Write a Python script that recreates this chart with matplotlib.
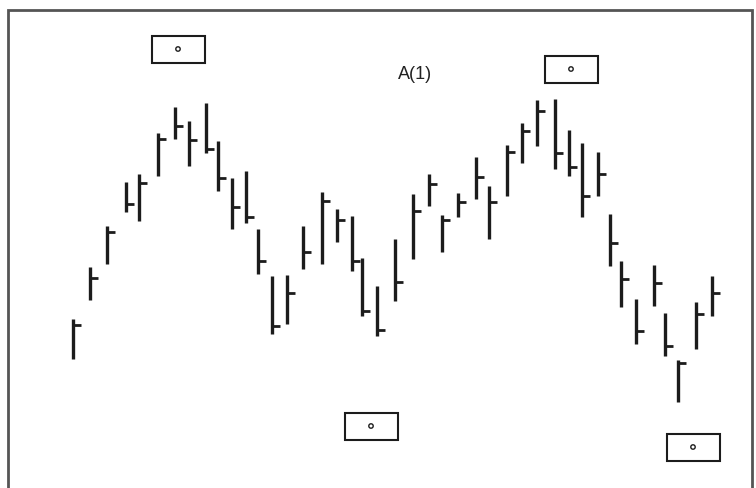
import matplotlib
matplotlib.use("Agg")
import matplotlib.pyplot as plt
from matplotlib.patches import Rectangle, Circle

# ---- data (x = bar position, prices on an arbitrary upward scale) ----
bar_x = [73, 90, 107, 126, 139, 158, 175, 189, 206, 218, 232, 246, 258, 272, 287,
         303, 322, 337, 352, 362, 377, 395, 413, 429, 442, 458, 476, 489, 507, 522,
         537, 555, 569, 582, 598, 610, 621, 636, 654, 665, 678, 696, 712]
bar_top = [320, 268, 227, 183, 175, 134, 108, 122, 104, 142, 179, 172, 230, 277, 276,
           227, 193, 210, 217, 259, 287, 240, 195, 175, 216, 194, 158, 187, 146, 124,
           101, 100, 131, 144, 153, 215, 262, 300, 266, 314, 361, 303, 277]
bar_bot = [360, 301, 265, 213, 222, 177, 140, 167, 154, 192, 230, 224, 275, 335, 325,
           270, 265, 243, 272, 317, 337, 302, 260, 207, 253, 218, 200, 240, 197, 164,
           147, 170, 177, 218, 197, 267, 308, 345, 307, 357, 403, 350, 317]
bar_close = [326, 279, 233, 205, 184, 140, 127, 141, 150, 179, 208, 218, 262, 327, 294,
             253, 202, 221, 262, 312, 331, 283, 212, 185, 221, 203, 178, 203, 153, 132,
             112, 154, 168, 197, 175, 244, 280, 332, 284, 347, 364, 315, 294]

H = 489
highs = [H - v for v in bar_top]
lows = [H - v for v in bar_bot]
closes = [H - v for v in bar_close]

# boxes: (center x, center y) on same scale
box_cx = [178, 571, 371, 693]
box_cy = [H - 50, H - 70, H - 427, H - 448]
label_text = "A(1)"
label_pos = (415, H - 75)

fig = plt.figure(figsize=(7.56, 4.89), dpi=100)
ax = fig.add_axes([0, 0, 1, 1])
ax.set_xlim(0, 756)
ax.set_ylim(0, 489)
ax.axis("off")

ink = "#1c1c1c"
ax.vlines(bar_x, lows, highs, colors=ink, linewidth=2.4, capstyle="butt")
ax.hlines(closes, bar_x, [x + 8 for x in bar_x], colors=ink, linewidth=2.0)

bw, bh = 53, 27
for cx, cy in zip(box_cx, box_cy):
    ax.add_patch(Rectangle((cx - bw / 2, cy - bh / 2), bw, bh, fill=False,
                           edgecolor=ink, linewidth=1.5))
    ax.add_patch(Circle((cx, cy), 2.2, fill=False, edgecolor=ink, linewidth=1.0))

ax.text(label_pos[0], label_pos[1], label_text, ha="center", va="center",
        fontsize=13, color="#222222", family="Liberation Sans")

# frame
ax.add_patch(Rectangle((8, -10), 744, H - 11 + 10, fill=False,
                       edgecolor="#555555", linewidth=2.0))

fig.savefig("out.png", dpi=100)
